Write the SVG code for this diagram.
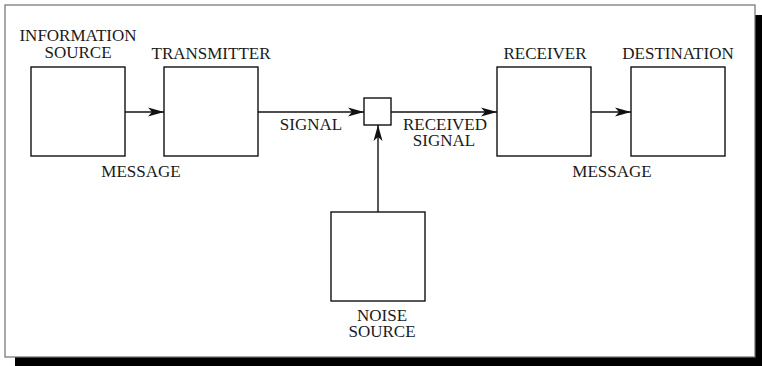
<svg xmlns="http://www.w3.org/2000/svg" width="762" height="366" viewBox="0 0 762 366">
<style>
  .box { fill: #ffffff; stroke: #111111; stroke-width: 1.4; }
  .lbl { font-family: "Liberation Serif", "Times New Roman", serif; font-size: 17px; fill: #1a1a1a; text-anchor: middle; }
  .conn { fill: none; stroke: #111111; stroke-width: 1.4; marker-end: url(#arrow); }
</style>
<defs>
  <marker id="arrow" markerUnits="userSpaceOnUse" markerWidth="18" markerHeight="10" viewBox="-17 -5 18 10" refX="0" refY="0" orient="auto">
    <path d="M0,0 L-16,-4.5 L-12,0 L-16,4.5 Z" fill="#111111"/>
  </marker>
</defs>
<rect x="0" y="0" width="762" height="366" fill="#ffffff"/>
<g id="frame">
  <rect x="15" y="15" width="760" height="360" fill="#000000"/>
  <rect x="5" y="5" width="750" height="352" fill="#ffffff" stroke="#707070" stroke-width="1.2"/>
</g>
<g id="connectors">
  <line class="conn" x1="125" y1="112" x2="164" y2="112"/>
  <line class="conn" x1="258" y1="112" x2="364" y2="112"/>
  <line class="conn" x1="391" y1="112" x2="497" y2="112"/>
  <line class="conn" x1="591" y1="112" x2="631" y2="112"/>
  <line class="conn" x1="378" y1="212" x2="378" y2="125"/>
  <text class="lbl" x="141" y="177">MESSAGE</text>
  <text class="lbl" x="311" y="130">SIGNAL</text>
  <text class="lbl" x="445" y="130">RECEIVED</text>
  <text class="lbl" x="444" y="146">SIGNAL</text>
  <text class="lbl" x="612" y="177">MESSAGE</text>
</g>
<g id="information-source">
  <rect class="box" x="31" y="67" width="94" height="89"/>
  <text class="lbl" x="78" y="41">INFORMATION</text>
  <text class="lbl" x="78" y="58">SOURCE</text>
</g>
<g id="transmitter">
  <rect class="box" x="164" y="67" width="94" height="89"/>
  <text class="lbl" x="211" y="59">TRANSMITTER</text>
</g>
<g id="mixer">
  <rect class="box" x="364" y="98" width="27" height="27"/>
</g>
<g id="receiver">
  <rect class="box" x="497" y="67" width="94" height="89"/>
  <text class="lbl" x="545" y="59">RECEIVER</text>
</g>
<g id="destination">
  <rect class="box" x="631" y="67" width="94" height="89"/>
  <text class="lbl" x="678" y="59">DESTINATION</text>
</g>
<g id="noise-source">
  <rect class="box" x="331" y="212" width="94" height="89"/>
  <text class="lbl" x="382" y="321">NOISE</text>
  <text class="lbl" x="382" y="337">SOURCE</text>
</g>
</svg>
